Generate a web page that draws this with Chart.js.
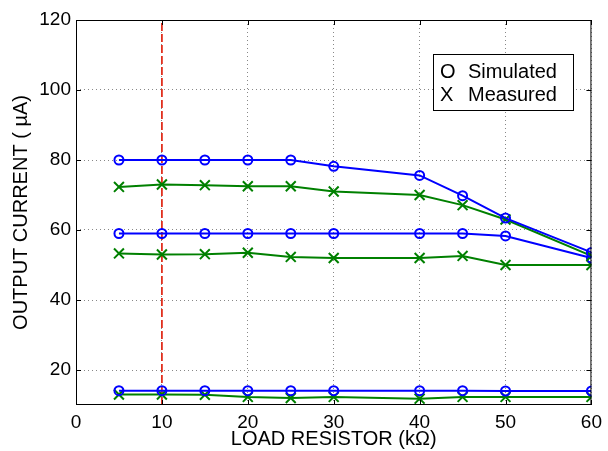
<!DOCTYPE html>
<html lang="en">
<head>
  <meta charset="UTF-8">
  <title>Output Current vs Load Resistor</title>
  <script src="https://cdn.jsdelivr.net/npm/chart.js"></script>
  <style>
      body { margin: 0; background: #ffffff; }
      #chart-container { width: 608px; height: 451px; position: relative; }
  </style>
</head>
<body>
  <div id="chart-container">
      <canvas id="currentChart"></canvas>
  </div>

  <script>
      // data
      var loadK = [5, 10, 15, 20, 25, 30, 40, 45, 50, 60];

      var simHigh = [80, 80, 80, 80, 80, 78.2, 75.6, 69.8, 63.4, 53.6];
      var measHigh = [72.3, 73, 72.8, 72.5, 72.5, 71, 70, 67.1, 63, 52.6];

      var simMid = [59, 59, 59, 59, 59, 59, 59, 59, 58.3, 52];
      var measMid = [53.3, 53, 53.1, 53.5, 52.3, 52, 52, 52.6, 50, 50];

      var simLow = [14.1, 14.1, 14.1, 14.1, 14.1, 14.1, 14.1, 14.1, 14, 14];
      var measLow = [13, 13, 12.9, 12.3, 12, 12.3, 11.8, 12.3, 12.3, 12.3];

      var xTicks = [0, 10, 20, 30, 40, 50, 60];
      var yTicks = [20, 40, 60, 80, 100, 120];
      var markerX = 10;

      var legendSymbols = ['O', 'X'];
      var legendLabels = ['Simulated', 'Measured'];

      var FONT = 'Liberation Sans, Arial, sans-serif';

      function pts(ys) {
          return loadK.map((x, i) => ({ x: x, y: ys[i] }));
      }

      function simSet(ys) {
          return {
              data: pts(ys),
              borderColor: '#0000ff',
              borderWidth: 2,
              pointStyle: 'circle',
              pointRadius: 4.5,
              pointBorderWidth: 2,
              pointBorderColor: '#0000ff',
              pointBackgroundColor: 'rgba(0,0,0,0)',
              tension: 0
          };
      }

      function measSet(ys) {
          return {
              data: pts(ys),
              borderColor: '#008000',
              borderWidth: 2,
              pointStyle: 'crossRot',
              pointRadius: 7,
              pointBorderWidth: 2,
              pointBorderColor: '#008000',
              tension: 0
          };
      }

      // frame, inward ticks and the legend box
      Chart.register({
          id: 'framePlugin',
          afterDraw: (chart) => {
              const { ctx, chartArea: { left, right, top, bottom }, scales: { x, y } } = chart;
              ctx.save();
              ctx.strokeStyle = '#000000';
              ctx.lineWidth = 1;
              ctx.strokeRect(left + 0.5, top + 0.5, right - left - 1, bottom - top - 1);
              ctx.beginPath();
              xTicks.forEach(v => {
                  const px = Math.round(x.getPixelForValue(v)) + 0.5;
                  ctx.moveTo(px, bottom); ctx.lineTo(px, bottom - 5);
                  ctx.moveTo(px, top); ctx.lineTo(px, top + 5);
              });
              yTicks.forEach(v => {
                  const py = Math.round(y.getPixelForValue(v)) + 0.5;
                  ctx.moveTo(left, py); ctx.lineTo(left + 5, py);
                  ctx.moveTo(right, py); ctx.lineTo(right - 5, py);
              });
              ctx.stroke();

              // legend
              const bx = 433, by = 54, bw = 140, bh = 56;
              ctx.fillStyle = '#ffffff';
              ctx.fillRect(bx, by, bw, bh);
              ctx.strokeRect(bx + 0.5, by + 0.5, bw, bh);
              ctx.fillStyle = '#000000';
              ctx.font = '20px ' + FONT;
              ctx.textBaseline = 'middle';
              legendLabels.forEach((t, i) => {
                  ctx.fillText(legendSymbols[i], bx + 7, by + 18 + i * 23);
                  ctx.fillText(t, bx + 35, by + 18 + i * 23);
              });
              ctx.restore();
          }
      });

      var ctx = document.getElementById('currentChart').getContext('2d');

      var chart = new Chart(ctx, {
          type: 'line',
          data: {
              datasets: [
                  simSet(simHigh), measSet(measHigh),
                  simSet(simMid), measSet(measMid),
                  simSet(simLow), measSet(measLow),
                  {
                      data: [{ x: markerX, y: 10 }, { x: markerX, y: 120 }],
                      borderColor: '#e0301e',
                      borderWidth: 1.8,
                      borderDash: [8, 3],
                      pointRadius: 0
                  }
              ]
          },
          options: {
              responsive: true,
              maintainAspectRatio: false,
              animation: false,
              layout: { padding: { top: 20, right: 10, left: 0, bottom: 0 } },
              plugins: {
                  legend: { display: false },
                  tooltip: { enabled: false }
              },
              scales: {
                  x: {
                      type: 'linear',
                      min: 0,
                      max: 60,
                      afterBuildTicks: (s) => { s.ticks = xTicks.map(v => ({ value: v })); },
                      afterFit: (s) => { s.height = 46; },
                      ticks: { color: '#000000', font: { family: FONT, size: 19 }, padding: 6 },
                      grid: { color: '#888888', drawTicks: false },
                      border: { display: false, dash: [1, 3] },
                      title: {
                          display: true,
                          text: 'LOAD RESISTOR (k\u03A9)',
                          color: '#000000',
                          font: { family: FONT, size: 20 },
                          padding: { top: 1, bottom: 0 }
                      }
                  },
                  y: {
                      min: 10,
                      max: 120,
                      afterBuildTicks: (s) => { s.ticks = yTicks.map(v => ({ value: v })); },
                      afterFit: (s) => { s.width = 76; },
                      ticks: { color: '#000000', font: { family: FONT, size: 19 }, padding: 5 },
                      grid: { color: '#888888', drawTicks: false },
                      border: { display: false, dash: [1, 3] },
                      title: {
                          display: true,
                          text: 'OUTPUT CURRENT ( \u00B5A)',
                          color: '#000000',
                          font: { family: FONT, size: 20 },
                          padding: { top: 9, bottom: 0 }
                      }
                  }
              }
          }
      });
  </script>
</body>
</html>
